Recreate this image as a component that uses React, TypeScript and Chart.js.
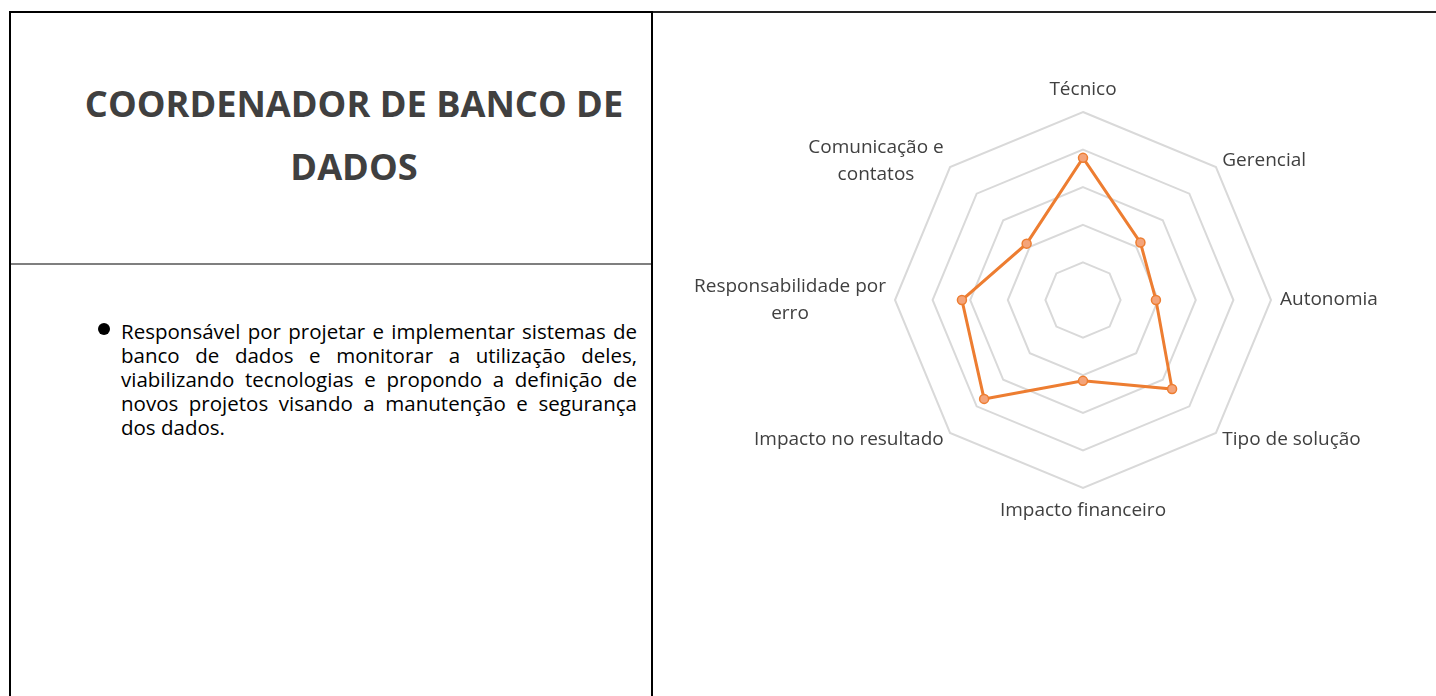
import React, { useEffect, useRef } from "react";
import { Chart, registerables } from "chart.js";

Chart.register(...registerables);

// ---------- data ----------
const categories: string[][] = [
  ["Técnico"],
  ["Gerencial"],
  ["Autonomia"],
  ["Tipo de solução"],
  ["Impacto financeiro"],
  ["Impacto no resultado"],
  ["Responsabilidade por", "erro"],
  ["Comunicação e", "contatos"],
];
const seriesValues: number[] = [3.78, 2.16, 1.94, 3.35, 2.15, 3.72, 3.22, 2.12];
const scaleMin = 0;
const scaleMax = 5;
const scaleStep = 1;

const titleLines: string[] = ["COORDENADOR DE BANCO DE", "DADOS"];
const descriptionLines: string[] = [
  "Responsável por projetar e implementar sistemas de",
  "banco de dados e monitorar a utilização deles,",
  "viabilizando tecnologias e propondo a definição de",
  "novos projetos visando a manutenção e segurança",
  "dos dados.",
];

// ---------- Excel-like point labels ----------
const excelPointLabels = {
  id: "excelPointLabels",
  afterDraw(chart: any) {
    const scale = chart.scales.r;
    const ctx: CanvasRenderingContext2D = chart.ctx;
    const pad = 9;
    const lh = 27;
    ctx.save();
    ctx.font = "19px 'Open Sans'";
    ctx.fillStyle = "#404040";
    ctx.textBaseline = "middle";
    ctx.textAlign = "center";
    (chart.data.labels as any[]).forEach((lab, i) => {
      const lines: string[] = Array.isArray(lab) ? lab : [lab];
      const pos = scale.getPointPosition(i, scale.drawingArea + pad);
      const deg = Math.round((scale.getIndexAngle(i) * 180) / Math.PI) % 360;
      const bw = Math.max(...lines.map((l) => ctx.measureText(l).width));
      const bh = lines.length * lh;
      let top: number;
      if (deg === 0) top = pos.y - bh;
      else if (deg === 180) top = pos.y;
      else top = pos.y - bh / 2;
      let cx: number;
      if (deg === 0 || deg === 180) cx = pos.x;
      else if (deg < 180) cx = pos.x + bw / 2;
      else cx = pos.x - bw / 2;
      lines.forEach((l, k) => ctx.fillText(l, cx, top + lh * k + lh / 2));
    });
    ctx.restore();
  },
};

function RadarChart() {
  const ref = useRef<HTMLCanvasElement | null>(null);
  useEffect(() => {
    if (!ref.current) return;
    const chart = new Chart(ref.current, {
      type: "radar",
      data: {
        labels: categories as any,
        datasets: [
          {
            data: seriesValues,
            borderColor: "#ED7D31",
            borderWidth: 3,
            backgroundColor: "transparent",
            fill: false,
            pointRadius: 4.5,
            pointBackgroundColor: "#F4A47A",
            pointBorderColor: "#ED7D31",
            pointBorderWidth: 1.5,
            tension: 0,
          },
        ],
      },
      options: {
        responsive: false,
        animation: false,
        layout: { padding: { left: 242, right: 165, top: 99, bottom: 208 } },
        plugins: { legend: { display: false }, tooltip: { enabled: false } },
        scales: {
          r: {
            min: scaleMin,
            max: scaleMax,
            ticks: { display: false, stepSize: scaleStep },
            grid: { color: "#D9D9D9", lineWidth: 2 },
            angleLines: { display: false },
            pointLabels: { display: false },
          },
        },
      } as any,
      plugins: [excelPointLabels],
    });
    return () => chart.destroy();
  }, []);
  return (
    <canvas
      ref={ref}
      width={783}
      height={683}
      style={{ position: "absolute", left: 653, top: 13, width: 783, height: 683 }}
    />
  );
}

export default function App() {
  return (
    <div
      style={{
        position: "fixed",
        left: 0,
        top: 0,
        width: 1436,
        height: 696,
        overflow: "hidden",
        background: "#fff",
        fontFamily: "'Open Sans', sans-serif",
      }}
    >
      {/* table borders */}
      <div style={{ position: "absolute", left: 9, top: 11, width: 644, height: 2, background: "#000" }} />
      <div style={{ position: "absolute", left: 653, top: 11, width: 783, height: 2, background: "#222" }} />
      <div style={{ position: "absolute", left: 9, top: 11, width: 2, height: 685, background: "#000" }} />
      <div style={{ position: "absolute", left: 651, top: 11, width: 2, height: 685, background: "#000" }} />
      <div style={{ position: "absolute", left: 11, top: 263, width: 640, height: 2, background: "#7F7F7F" }} />

      {/* title */}
      <div
        style={{
          position: "absolute",
          left: 58,
          top: 72,
          width: 592,
          textAlign: "center",
          fontWeight: 700,
          fontSize: 36.2,
          lineHeight: "63px",
          color: "#404040",
        }}
      >
        {titleLines.map((t, i) => (
          <div key={i}>{t}</div>
        ))}
      </div>

      {/* bullet */}
      <div
        style={{
          position: "absolute",
          left: 98,
          top: 323,
          width: 12,
          height: 12,
          borderRadius: "50%",
          background: "#000",
        }}
      />

      {/* description */}
      <div
        style={{
          position: "absolute",
          left: 121,
          top: 319,
          width: 516,
          fontSize: 20.5,
          lineHeight: "24px",
          color: "#000",
        }}
      >
        {descriptionLines.map((t, i) => (
          <div
            key={i}
            style={{
              textAlign: i < descriptionLines.length - 1 ? "justify" : "left",
              textAlignLast: i < descriptionLines.length - 1 ? "justify" : "left",
            }}
          >
            {t}
          </div>
        ))}
      </div>

      <RadarChart />
    </div>
  );
}
